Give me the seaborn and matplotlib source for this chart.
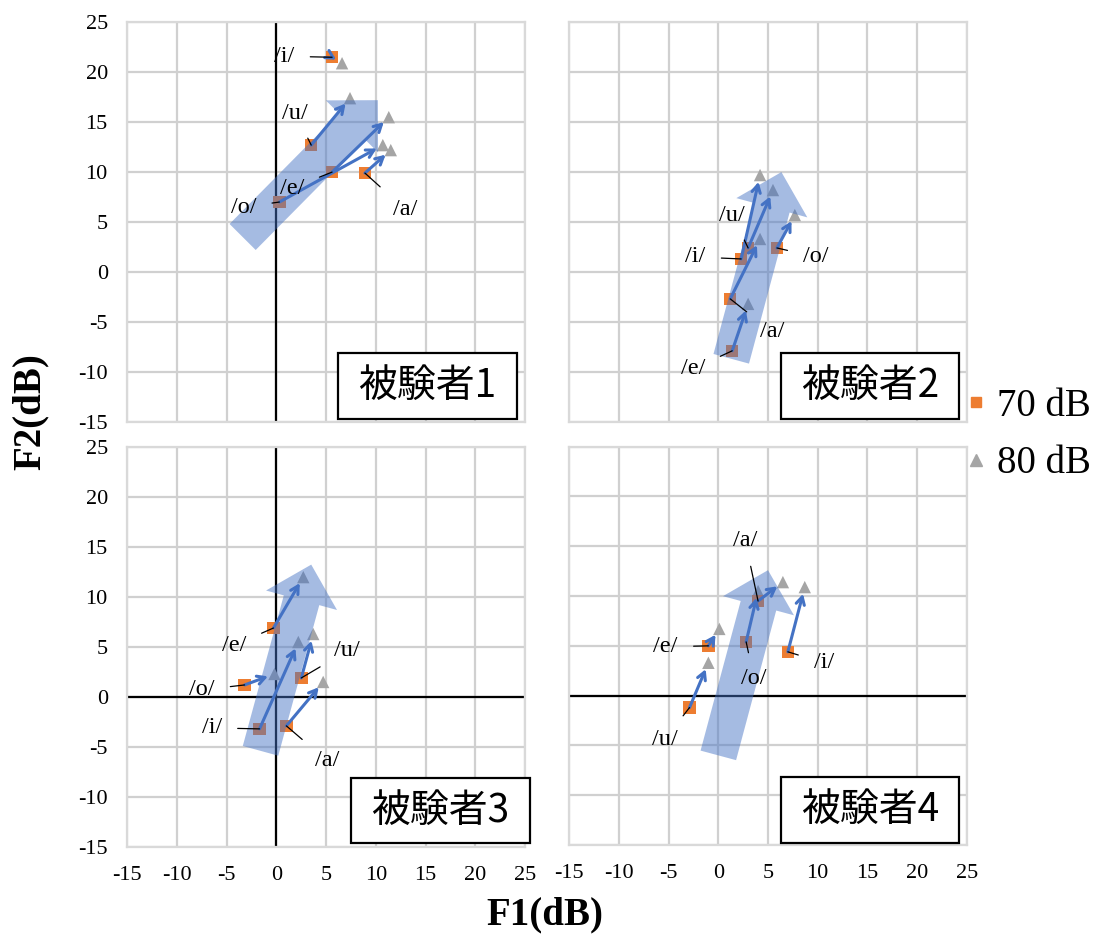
import numpy as np
import pandas as pd
import matplotlib
matplotlib.use("Agg")
import matplotlib.pyplot as plt
import seaborn as sns
from matplotlib.patches import FancyArrow, Rectangle
from matplotlib.lines import Line2D

# ---------------- data ----------------
subjects = ["被験者1", "被験者2", "被験者3", "被験者4"]
levels = ["70 dB", "80 dB"]

s1_vowels = ["/i/", "/u/", "/e/", "/o/", "/a/"]
s1_f1_70 = [5.6, 3.5, 5.6, 0.3, 8.9]
s1_f2_70 = [21.5, 12.7, 10.0, 7.0, 9.9]
s1_f1_80 = [6.6, 7.4, 11.3, 10.7, 11.5]
s1_f2_80 = [20.9, 17.4, 15.5, 12.7, 12.2]

s2_vowels = ["/u/", "/i/", "/o/", "/a/", "/e/"]
s2_f1_70 = [3.0, 2.3, 5.9, 1.2, 1.4]
s2_f2_70 = [2.4, 1.3, 2.4, -2.7, -7.9]
s2_f1_80 = [5.5, 4.2, 7.7, 4.2, 3.0]
s2_f2_80 = [8.2, 9.7, 5.7, 3.3, -3.2]

s3_vowels = ["/e/", "/o/", "/u/", "/i/", "/a/"]
s3_f1_70 = [-0.3, -3.2, 2.5, -1.7, 1.0]
s3_f2_70 = [6.9, 1.2, 1.9, -3.2, -2.9]
s3_f1_80 = [2.7, -0.2, 3.7, 2.2, 4.7]
s3_f2_80 = [12.0, 2.3, 6.3, 5.5, 1.5]

s4_vowels = ["/u/", "/e/", "/o/", "/a/", "/i/"]
s4_f1_70 = [-2.9, -1.0, 2.8, 4.0, 7.0]
s4_f2_70 = [-1.2, 5.0, 5.4, 9.5, 4.4]
s4_f1_80 = [-1.0, 0.1, 4.0, 6.5, 8.7]
s4_f2_80 = [3.3, 6.7, 10.5, 11.4, 10.9]

axis_ticks = [-15, -10, -5, 0, 5, 10, 15, 20, 25]

# ---------------- layout (annotation placement) ----------------
label_pos = [
    {"/i/": (0.8, 21.6), "/u/": (1.9, 15.9), "/e/": (1.6, 8.4), "/o/": (-3.3, 6.5), "/a/": (12.9, 6.3)},
    {"/u/": (1.4, 5.7), "/i/": (-2.3, 1.5), "/o/": (9.8, 1.5), "/a/": (5.4, -6.0), "/e/": (-2.5, -9.7)},
    {"/e/": (-4.2, 5.2), "/o/": (-7.5, 0.7), "/i/": (-6.5, -3.1), "/a/": (5.1, -6.4), "/u/": (7.1, 4.6)},
    {"/a/": (2.7, 15.6), "/e/": (-5.3, 4.9), "/o/": (3.6, 1.7), "/i/": (10.6, 3.3), "/u/": (-5.4, -4.4)},
]
# trend arrows: tail (x, y) -> tip (x, y)
trend_arrows = [((-3.4, 3.5), (10.2, 17.2)),
                ((1.3, -8.7), (6.35, 10.0)),
                ((-1.6, -5.4), (3.5, 13.25)),
                ((0.0, -6.0), (5.0, 12.6))]
zero_lines = [("v",), (), ("v", "h"), ("h",)]
ax_rects_px = [(127.3, 22.3, 525.0, 421.7), (569.3, 22.3, 966.7, 421.7),
               (127.3, 447.3, 525.0, 846.7), (569.3, 446.7, 966.7, 845.0)]
box_frac = [(0.530, 0.008, 0.449, 0.163), (0.532, 0.006, 0.449, 0.165),
            (0.5625, 0.0085, 0.449, 0.163), (0.532, 0.004, 0.449, 0.167)]

# ---------------- long-form table ----------------
raw = [(s1_vowels, s1_f1_70, s1_f2_70, s1_f1_80, s1_f2_80),
       (s2_vowels, s2_f1_70, s2_f2_70, s2_f1_80, s2_f2_80),
       (s3_vowels, s3_f1_70, s3_f2_70, s3_f1_80, s3_f2_80),
       (s4_vowels, s4_f1_70, s4_f2_70, s4_f1_80, s4_f2_80)]
rows = []
for subj, (v, a1, a2, b1, b2) in zip(subjects, raw):
    for i in range(len(v)):
        rows.append((subj, v[i], levels[0], a1[i], a2[i]))
        rows.append((subj, v[i], levels[1], b1[i], b2[i]))
df = pd.DataFrame(rows, columns=["subject", "vowel", "level", "F1", "F2"])

# ---------------- styling ----------------
sns.set_style("white")
plt.rcParams["font.family"] = ["Liberation Serif", "Noto Sans CJK JP", "DejaVu Sans"]
plt.rcParams["text.color"] = "black"
plt.rcParams["xtick.color"] = "black"
plt.rcParams["ytick.color"] = "black"
plt.rcParams["axes.labelcolor"] = "black"

ORANGE = "#ED7D31"
GRAY = "#A5A5A5"
BLUE = "#4472C4"
GRID = "#D0D0D0"

W, H = 1101, 943
fig = plt.figure(figsize=(W / 100, H / 100), dpi=100)

for k, subj in enumerate(subjects):
    x0, y0, x1, y1 = ax_rects_px[k]
    ax = fig.add_axes([x0 / W, 1 - y1 / H, (x1 - x0) / W, (y1 - y0) / H])
    sub = df[df["subject"] == subj]
    sns.scatterplot(data=sub, x="F1", y="F2", hue="level", style="level",
                    palette={levels[0]: ORANGE, levels[1]: GRAY},
                    markers={levels[0]: "s", levels[1]: "^"},
                    s=80, linewidth=0, legend=False, ax=ax, zorder=2)
    ax.set_xlim(-15, 25)
    ax.set_ylim(-15, 25)
    ax.set_xticks(axis_ticks)
    ax.set_yticks(axis_ticks)
    ax.grid(True, color=GRID, lw=1.6)
    ax.set_axisbelow(True)
    for sp in ax.spines.values():
        sp.set_color("#D9D9D9")
        sp.set_linewidth(1.6)
    ax.tick_params(length=0, labelsize=16, pad=14, colors="black")
    if k in (0, 2):
        ax.set_yticklabels([str(t) for t in axis_ticks])
    else:
        ax.set_yticklabels([])
    if k in (2, 3):
        ax.set_xticklabels([str(t) for t in axis_ticks])
    else:
        ax.set_xticklabels([])
    ax.set_xlabel("")
    ax.set_ylabel("")

    if "v" in zero_lines[k]:
        ax.axvline(0, color="black", lw=1.6, zorder=1)
    if "h" in zero_lines[k]:
        ax.axhline(0, color="black", lw=1.6, zorder=1)

    # big translucent trend arrow
    (tx, ty), (hx, hy) = trend_arrows[k]
    ax.add_patch(FancyArrow(tx, ty, hx - tx, hy - ty, width=3.7, head_width=7.4,
                            head_length=3.7, length_includes_head=True,
                            color=BLUE, alpha=0.48, lw=0, zorder=2.5))

    # per-vowel arrows 70 dB -> 80 dB and labels
    a = sub[sub["level"] == levels[0]].set_index("vowel")
    b = sub[sub["level"] == levels[1]].set_index("vowel")
    for vw in a.index:
        ax.annotate("", xy=(b.loc[vw, "F1"], b.loc[vw, "F2"]),
                    xytext=(a.loc[vw, "F1"], a.loc[vw, "F2"]),
                    arrowprops=dict(arrowstyle="->,head_length=0.55,head_width=0.3",
                                    color=BLUE, lw=2.2, shrinkA=0, shrinkB=5),
                    zorder=3)
        lx, ly = label_pos[k][vw]
        ax.annotate(vw, xy=(a.loc[vw, "F1"], a.loc[vw, "F2"]), xytext=(lx, ly),
                    ha="center", va="center", fontsize=17.5, color="black",
                    family="Liberation Serif",
                    arrowprops=dict(arrowstyle="-", color="black", lw=0.9,
                                    shrinkA=9, shrinkB=0),
                    zorder=4)

    bx, by, bw, bh = box_frac[k]
    ax.add_patch(Rectangle((bx, by), bw, bh, transform=ax.transAxes,
                           facecolor="white", edgecolor="black", lw=1.6,
                           zorder=5, clip_on=False))
    ax.text(bx + bw / 2, by + bh / 2, subj, transform=ax.transAxes,
            ha="center", va="center", fontsize=28, color="black",
            family=["Noto Sans CJK JP"], zorder=6)

# figure legend
handles = [Line2D([], [], marker="s", color=ORANGE, ls="", markersize=7),
           Line2D([], [], marker="^", color=GRAY, ls="", markersize=8)]
fig.legend(handles, levels, loc="center left", bbox_to_anchor=(964 / W, 1 - 435 / H),
           frameon=False, prop={"family": "Liberation Serif", "size": 28},
           handlelength=0.6, handletextpad=0.25, labelspacing=0.52,
           borderpad=0, borderaxespad=0)

fig.text(30 / W, 1 - 412 / H, "F2(dB)", rotation=90, ha="center", va="center",
         fontsize=28, fontweight="bold", family="Liberation Serif", color="black")
fig.text(545 / W, 1 - 915 / H, "F1(dB)", ha="center", va="center",
         fontsize=28, fontweight="bold", family="Liberation Serif", color="black")

fig.savefig("out.png", dpi=100)
